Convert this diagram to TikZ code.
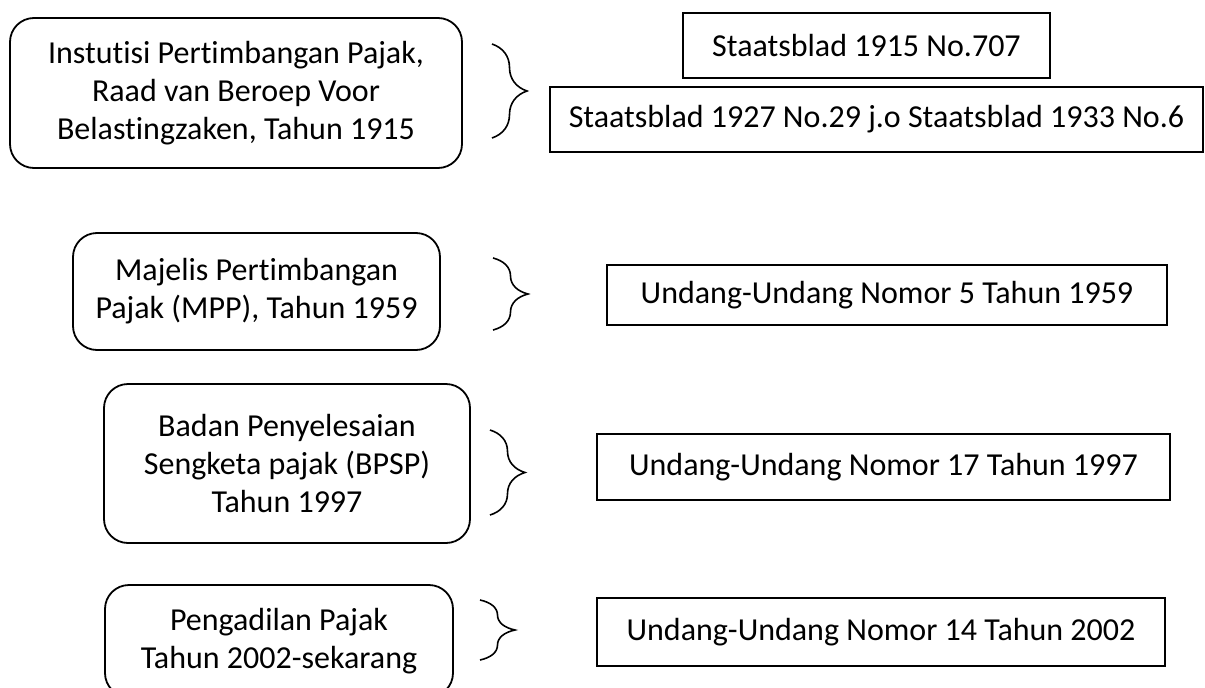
\documentclass[tikz,border=0pt]{standalone}
\usepackage{fontspec}
\setmainfont{Carlito}[Ligatures=NoCommon]
\usetikzlibrary{decorations.pathreplacing}

\begin{document}
\begin{tikzpicture}[x=1pt,y=-1pt,
		every node/.style={font=\fontsize{32}{38}\selectfont,inner sep=0pt,align=center},
		lembaga/.style={draw,line width=1.8pt,rounded corners=24pt},
		dasar/.style={draw,line width=1.8pt},
		kurung/.style={decorate,decoration={brace,amplitude=35pt},line width=1.6pt}]
		\useasboundingbox (0,0) rectangle (1205,688);
		
		% lembaga (kiri)
		\node[lembaga,minimum width=452pt,minimum height=150pt] (ipp) at (236,93)
			{Instutisi Pertimbangan Pajak,\\Raad van Beroep Voor\\Belastingzaken, Tahun 1915};
		\node[lembaga,minimum width=367pt,minimum height=117pt] (mpp) at (256.5,291.5)
			{Majelis Pertimbangan\\Pajak (MPP), Tahun 1959};
		\node[lembaga,minimum width=366pt,minimum height=159pt] (bpsp) at (287,463.5)
			{Badan Penyelesaian\\Sengketa pajak (BPSP)\\Tahun 1997};
		\node[lembaga,minimum width=348pt,minimum height=112pt] (pp) at (279,641)
			{Pengadilan Pajak\\Tahun 2002-sekarang};
		
		% dasar hukum (kanan)
		\node[dasar,minimum width=367pt,minimum height=65pt] (sb1) at (866.5,45.5) {Staatsblad 1915 No.707};
		\node[dasar,minimum width=653pt,minimum height=65pt] (sb2) at (876.5,119.5) {Staatsblad 1927 No.29 j.o Staatsblad 1933 No.6};
		\node[dasar,minimum width=560pt,minimum height=60pt] (uu5) at (887,295) {Undang-Undang Nomor 5 Tahun 1959};
		\node[dasar,minimum width=573pt,minimum height=66pt] (uu17) at (883.5,467) {Undang-Undang Nomor 17 Tahun 1997};
		\node[dasar,minimum width=568pt,minimum height=68pt] (uu14) at (881,632) {Undang-Undang Nomor 14 Tahun 2002};
		
		% kurung kurawal
		\coordinate (k1a) at (492,44);  \coordinate (k1b) at (492,138);
		\coordinate (k2a) at (493,258); \coordinate (k2b) at (493,330);
		\coordinate (k3a) at (490,430); \coordinate (k3b) at (490,515);
		\coordinate (k4a) at (480,600); \coordinate (k4b) at (480,660);
		\draw[kurung] (k1a) -- (k1b);
		\draw[kurung] (k2a) -- (k2b);
		\draw[kurung] (k3a) -- (k3b);
		\draw[kurung] (k4a) -- (k4b);
	\end{tikzpicture}
\end{document}
